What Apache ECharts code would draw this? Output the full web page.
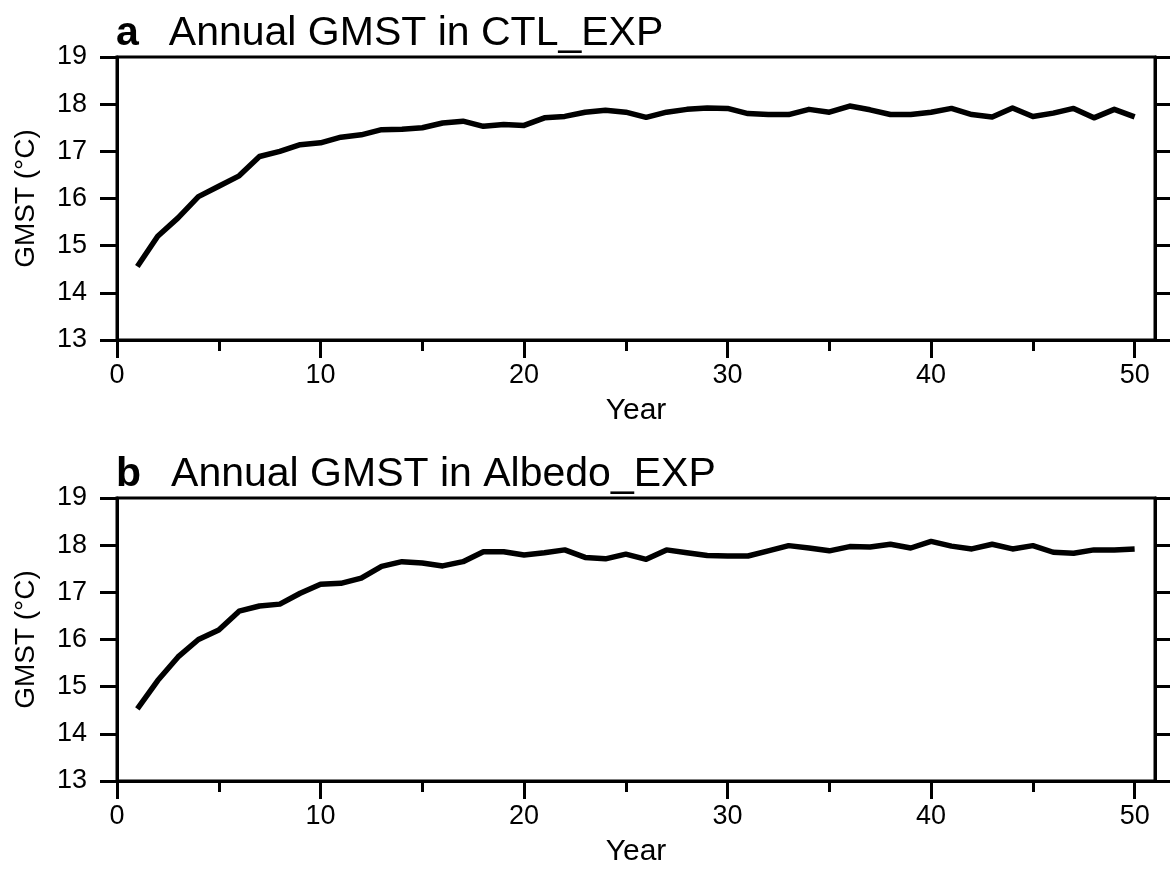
<!DOCTYPE html>
<html>
<head>
<meta charset="utf-8">
<script src="https://cdn.jsdelivr.net/npm/echarts@6/dist/echarts.min.js"></script>
<style>
  html, body { margin: 0; padding: 0; background: #fff; }
  #main { width: 1170px; height: 873px; }
</style>
</head>
<body>
<div id="main"></div>
<script>
// model years
const years = [1, 2, 3, 4, 5, 6, 7, 8, 9, 10,
  11, 12, 13, 14, 15, 16, 17, 18, 19, 20,
  21, 22, 23, 24, 25, 26, 27, 28, 29, 30,
  31, 32, 33, 34, 35, 36, 37, 38, 39, 40,
  41, 42, 43, 44, 45, 46, 47, 48, 49, 50]

// GMST (°C) in CTL_EXP
const ctlGmst = [14.56, 15.20, 15.59, 16.04, 16.26, 16.48, 16.89, 17.00, 17.14, 17.18,
  17.30, 17.35, 17.46, 17.47, 17.50, 17.60, 17.64, 17.53, 17.57, 17.55,
  17.71, 17.74, 17.83, 17.87, 17.83, 17.72, 17.83, 17.89, 17.92, 17.91,
  17.80, 17.78, 17.78, 17.89, 17.83, 17.96, 17.88, 17.78, 17.78, 17.83,
  17.91, 17.78, 17.73, 17.92, 17.74, 17.81, 17.91, 17.71, 17.89, 17.73]

// GMST (°C) in Albedo_EXP
const albedoGmst = [14.53, 15.13, 15.63, 16.00, 16.20, 16.60, 16.71, 16.75, 16.98, 17.17,
  17.19, 17.30, 17.55, 17.65, 17.62, 17.56, 17.65, 17.86, 17.86, 17.79,
  17.84, 17.90, 17.74, 17.71, 17.81, 17.70, 17.90, 17.84, 17.78, 17.77,
  17.77, 17.88, 17.99, 17.94, 17.88, 17.97, 17.96, 18.02, 17.94, 18.08,
  17.98, 17.92, 18.02, 17.92, 17.99, 17.85, 17.83, 17.90, 17.90, 17.92]

const xMajorTicks = [0, 10, 20, 30, 40, 50]
const xMinorTicks = [5, 15, 25, 35, 45]
const yTicks = [13, 14, 15, 16, 17, 18, 19]

const panelTitles = ['Annual GMST in CTL_EXP', 'Annual GMST in Albedo_EXP']
const panelLetters = ['a', 'b']

const font = '"Liberation Sans", Arial, Helvetica, sans-serif'
const axisLine = { show: true, onZero: false, lineStyle: { color: '#000', width: 3 } }

const chart = echarts.init(document.getElementById('main'))

const gridTops = [57, 498]
const grids = gridTops.map(top => ({
  left: 117,
  right: 15,
  top: top,
  height: 283,
  show: true,
  borderColor: '#000',
  borderWidth: 3,
  containLabel: false
}))

const xAxes = []
const yAxes = []
gridTops.forEach((top, g) => {
  // main x axis with labels
  xAxes.push({
    gridIndex: g,
    type: 'value',
    min: 0,
    max: 51,
    interval: 10,
    position: 'bottom',
    name: 'Year',
    nameLocation: 'middle',
    nameGap: 56,
    nameMoveOverlap: false,
    nameTextStyle: { color: '#000', fontSize: 30, fontFamily: font },
    axisLine: axisLine,
    axisTick: { show: true, length: 18, customValues: xMajorTicks, lineStyle: { color: '#000', width: 3 } },
    axisLabel: { color: '#000', fontSize: 27, fontFamily: font, margin: 22, customValues: xMajorTicks },
    splitLine: { show: false }
  })
  // minor ticks only
  xAxes.push({
    gridIndex: g,
    type: 'value',
    min: 0,
    max: 51,
    interval: 5,
    position: 'bottom',
    axisLine: { show: false },
    axisTick: { show: true, length: 11, customValues: xMinorTicks, lineStyle: { color: '#000', width: 3 } },
    axisLabel: { show: false },
    splitLine: { show: false }
  })
  yAxes.push({
    gridIndex: g,
    type: 'value',
    min: 13,
    max: 19,
    interval: 1,
    position: 'left',
    name: 'GMST (°C)',
    nameLocation: 'middle',
    nameGap: 77,
    nameMoveOverlap: false,
    nameTextStyle: { color: '#000', fontSize: 28, fontFamily: font },
    axisLine: axisLine,
    axisTick: { show: true, length: 17, customValues: yTicks, lineStyle: { color: '#000', width: 3 } },
    axisLabel: { color: '#000', fontSize: 27, fontFamily: font, margin: 30 },
    splitLine: { show: false }
  })
  yAxes.push({
    gridIndex: g,
    type: 'value',
    min: 13,
    max: 19,
    interval: 1,
    position: 'right',
    axisLine: axisLine,
    axisTick: { show: true, length: 17, lineStyle: { color: '#000', width: 3 } },
    axisLabel: { show: false },
    splitLine: { show: false }
  })
})

const titles = gridTops.map((top, g) => ({
  left: 116,
  top: top - 44,
  padding: 0,
  text: '{l|' + panelLetters[g] + '}{t|' + panelTitles[g] + '}',
  textStyle: {
    rich: {
      l: { fontSize: 41, fontWeight: 'bold', fontFamily: font, color: '#000', padding: [0, 30, 0, 0] },
      t: { fontSize: 41, fontWeight: 'normal', fontFamily: font, color: '#000' }
    }
  }
}))

chart.setOption({
  animation: false,
  backgroundColor: '#fff',
  title: titles,
  grid: grids,
  xAxis: xAxes,
  yAxis: yAxes,
  series: [
    {
      type: 'line',
      xAxisIndex: 0,
      yAxisIndex: 0,
      showSymbol: false,
      symbol: 'none',
      lineStyle: { color: '#000', width: 5.5, join: 'round' },
      data: years.map((y, i) => [y, ctlGmst[i]])
    },
    {
      type: 'line',
      xAxisIndex: 2,
      yAxisIndex: 2,
      showSymbol: false,
      symbol: 'none',
      lineStyle: { color: '#000', width: 5.5, join: 'round' },
      data: years.map((y, i) => [y, albedoGmst[i]])
    }
  ]
})
</script>
</body>
</html>
